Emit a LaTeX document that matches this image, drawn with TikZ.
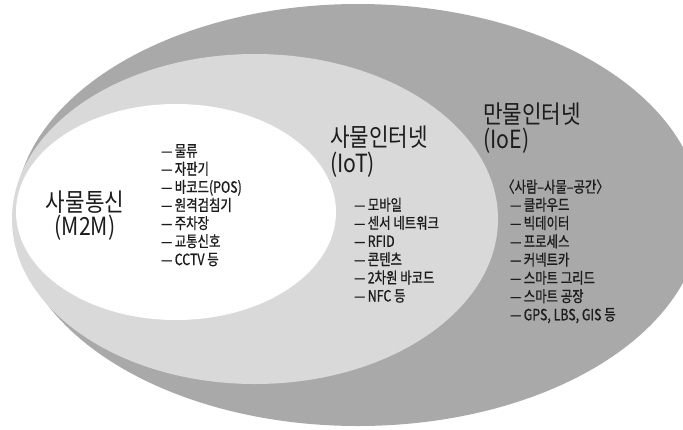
\documentclass[tikz,border=0pt]{standalone}
\usepackage{fontspec}
\setmainfont{Noto Sans CJK KR}
\newfontfamily\headfont[FakeStretch=0.85]{Noto Sans CJK KR}
\newfontfamily\listfont[FakeStretch=0.8,FakeBold=0.8]{Noto Sans CJK KR}
\definecolor{outergray}{HTML}{A9A9A9}
\definecolor{midgray}{HTML}{D9D9D9}
\definecolor{txtcol}{HTML}{1C1C1C}
\newcommand{\dsh}{—\hspace{2.5pt}}
\tikzset{
  headtxt/.style={anchor=base west,inner sep=0pt,text=txtcol,font=\headfont\fontsize{25}{25}\selectfont},
  headmid/.style={anchor=base,inner sep=0pt,text=txtcol,font=\headfont\fontsize{25}{25}\selectfont},
  listtxt/.style={anchor=base west,inner sep=0pt,text=txtcol,font=\listfont\fontsize{15.5}{16}\selectfont},
}
\begin{document}
\begin{tikzpicture}[x=1pt,y=-1pt]
\useasboundingbox (0,0) rectangle (683,429);
\clip (0,0) rectangle (683,429);
\fill[white] (0,0) rectangle (683,429);
% ellipses
\fill[outergray] (358,215) ellipse [x radius=343pt, y radius=211pt];
\fill[midgray] (255,219) ellipse [x radius=243pt, y radius=165pt];
\fill[white] (176,212) ellipse [x radius=160pt, y radius=108pt];
% headings
\node[headmid] (m2ma) at (85,211) {사물통신};
\node[headmid] (m2mb) at (85,235) {(M2M)};
\node[headtxt] (iota) at (330,146) {사물인터넷};
\node[headtxt] (iotb) at (330,172) {(IoT)};
\node[headtxt] (ioea) at (483,123) {만물인터넷};
\node[headtxt] (ioeb) at (483,148) {(IoE)};
% lists
\foreach \t [count=\i from 0] in {물류,자판기,바코드(POS),원격검침기,주차장,교통신호,CCTV 등}
  \node[listtxt] (m\i) at (161,{156.5+\i*18.1}) {\dsh\t};
\foreach \t [count=\i from 0] in {모바일,센서 네트워크,RFID,콘텐츠,2차원 바코드,NFC 등}
  \node[listtxt] (t\i) at (354,{210.5+\i*18.2}) {\dsh\t};
\node[listtxt] (ehead) at (502,192.5) {〈사람–사물–공간〉};
\foreach \t [count=\i from 0] in {클라우드,빅데이터,프로세스,커넥트카,스마트 그리드,스마트 공장,{GPS, LBS, GIS 등}}
  \node[listtxt] (e\i) at (510,{210.5+\i*18.3}) {\dsh\t};
\end{tikzpicture}
\end{document}
